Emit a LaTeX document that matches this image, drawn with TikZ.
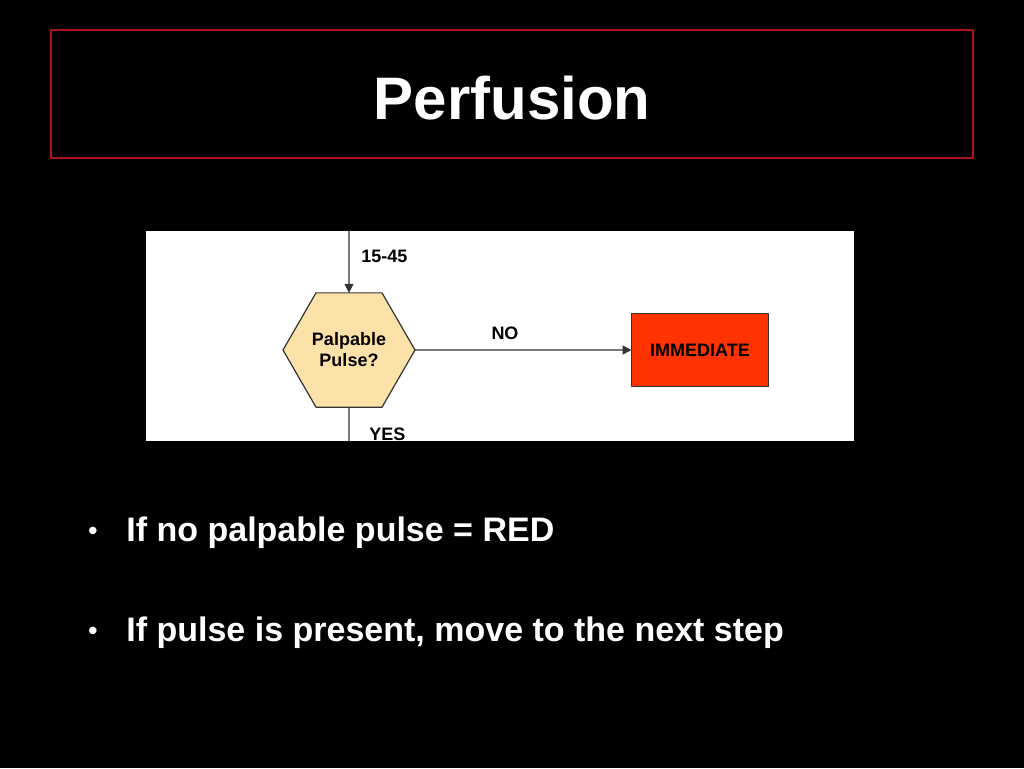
\documentclass[tikz,border=0pt]{standalone}
\usepackage{fontspec}
\setmainfont{Liberation Sans}
\usetikzlibrary{shapes.geometric,arrows.meta}
\definecolor{titlered}{HTML}{B01418}
\definecolor{hexfill}{HTML}{FCE2A8}
\definecolor{boxred}{HTML}{FF3300}
\definecolor{edgegray}{HTML}{333333}
\begin{document}
\begin{tikzpicture}[x=0.5pt,y=-0.5pt,line join=round,>={Triangle[length=4.5pt,width=4.5pt]},
 flow/.style={font=\fontsize{9}{10.5}\selectfont\bfseries,text=black},
 hexa/.style={flow,regular polygon,regular polygon sides=6,minimum size=66pt,inner sep=0pt,outer sep=0pt,draw=edgegray,fill=hexfill,align=center},
 redbox/.style={flow,rectangle,minimum width=68.5pt,minimum height=36.5pt,inner sep=0pt,outer sep=0pt,draw=edgegray,fill=boxred},
 bullet/.style={anchor=base west,text=white,font=\fontsize{17}{20}\selectfont\bfseries}]
\fill[black] (0,0) rectangle (1024,768);
\draw[titlered,line width=0.6pt] (51,30) rectangle (973,158);
\node[anchor=base,text=white,font=\fontsize{30}{36}\selectfont\bfseries] (title) at (512,119) {Perfusion};
% chart
\fill[white] (146,231) rectangle (854,441);
\coordinate (in) at (349,231);
\coordinate (out) at (349,441);
\node[hexa,line width=0.6pt] (pulse) at (349,350) {Palpable\\Pulse?};
\node[redbox,line width=0.6pt] (imm) at (700,350) {IMMEDIATE};
\draw[->,edgegray,line width=0.7pt] (in)--(pulse);
\draw[->,edgegray,line width=0.7pt] (pulse)--(imm);
\draw[edgegray,line width=0.7pt] (pulse)--(out);
\node[flow,anchor=base west,inner sep=0pt] (range) at (361,262) {15-45};
\node[flow,anchor=base,inner sep=0pt] (no) at (505,339) {NO};
\node[flow,anchor=base west,inner sep=0pt] (yes) at (369,440) {YES};
% bullets
\foreach \y/\txt [count=\i] in {541/If no palpable pulse = RED,641/{If pulse is present, move to the next step}}{
\node[bullet,anchor=base,font=\fontsize{13}{16}\selectfont\bfseries,inner sep=0pt] (dot\i) at (93,\y-2) {\textbullet};
\node[bullet,inner sep=0pt] (item\i) at (126,\y) {\txt};
}
\end{tikzpicture}
\end{document}
